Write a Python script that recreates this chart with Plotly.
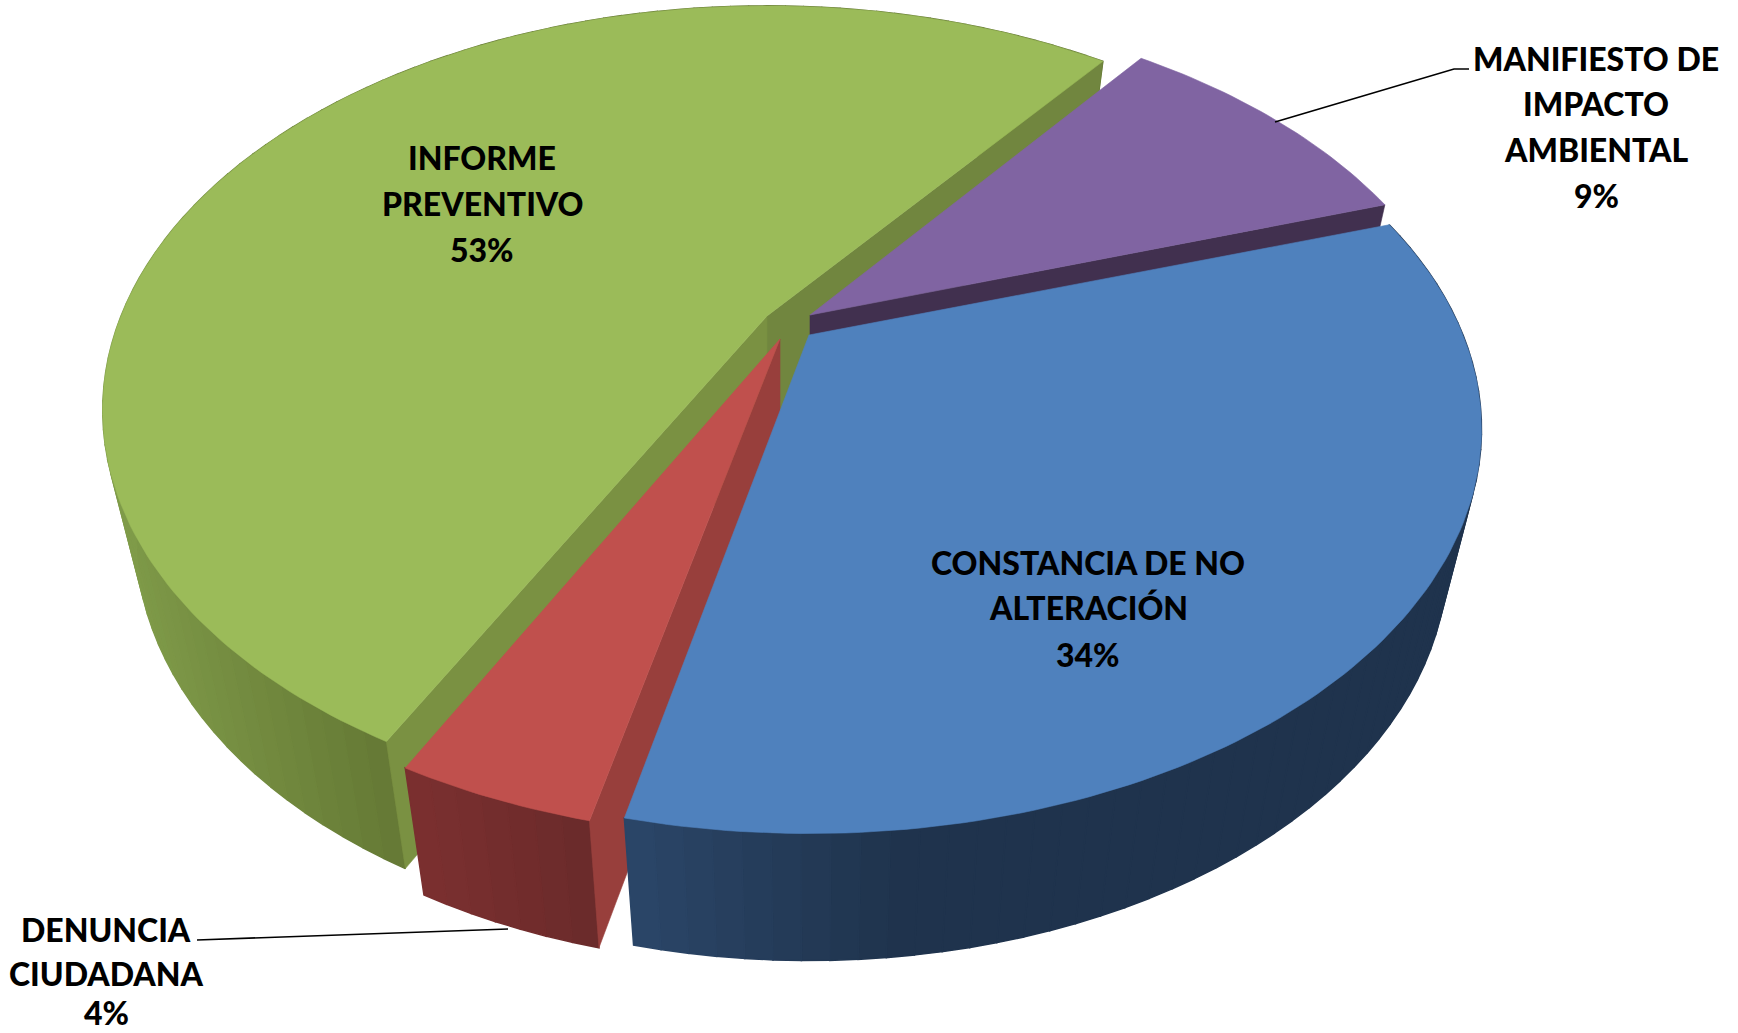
import math
import plotly.graph_objects as go

# ---- data ----
categories = ["CONSTANCIA DE NO\nALTERACIÓN", "DENUNCIA\nCIUDADANA", "INFORME\nPREVENTIVO", "MANIFIESTO DE\nIMPACTO\nAMBIENTAL"]
values = [33.5, 4.25, 52.8, 9.45]

# ---- style / geometry ----
W, H = 1738, 1033
START_ANGLE = 72.0      # clockwise from 12 o'clock, first slice
RX = [654.0, 650.0, 646.0, 648.0]
RY, PERSP = 382.4, 0.233
DROP, SHRINK_X = 127.0, 0.95
APEX = [(809, 335), (780, 339), (767, 316), (810, 315)]
NUDGE = [(0, 0), (0.5, -0.7), (0, 0), (-0.7, 0)]    # drawing offsets of slice edges, degrees
TOP = ["#4F81BD", "#C0504D", "#9BBB59", "#8064A2"]
WALL_START = [None, "#983F3C", "#7A9142", None]     # radial wall at slice start angle
WALL_END = [None, None, "#71863F", "#41304F"]       # radial wall at slice end angle
OUTER = [("#2B4668", "#1F334D"), ("#7C3030", "#692A2A"), ("#7F9B49", "#637633"), None]
GRAD_RANGE = [(625, 900), (400, 600), (110, 410), (0, 1)]
LABEL_POS = [(1088, (562, 607, 654)), (106, (929, 973, 1012)), (482, (157, 203, 249)),
             (1596, (58, 103, 149, 195))]
FONT = "Lato"
FSIZE = 32


def top_pt(i, deg):
    ax, ay = APEX[i]
    t = math.radians(deg)
    x, y = math.sin(t), -math.cos(t)
    w = 1 - PERSP * y
    return ax + RX[i] * x / w, ay + RY * y / w


def bot_pt(i, p):
    ax, ay = APEX[i]
    return ax + SHRINK_X * (p[0] - ax), p[1] + DROP


def mix(c1, c2, f):
    f = max(0.0, min(1.0, f))
    a = [int(c1[k:k + 2], 16) for k in (1, 3, 5)]
    b = [int(c2[k:k + 2], 16) for k in (1, 3, 5)]
    return "#%02x%02x%02x" % tuple(round(u + (v - u) * f) for u, v in zip(a, b))


fig = go.Figure()


def poly(pts, color, lw=0.6):
    fig.add_trace(go.Scatter(
        x=[p[0] for p in pts] + [pts[0][0]], y=[p[1] for p in pts] + [pts[0][1]],
        mode="lines", fill="toself", fillcolor=color,
        line=dict(color=color, width=lw), hoverinfo="skip", showlegend=False))


def radial_wall(i, deg, color):
    a = APEX[i]
    p = top_pt(i, deg)
    poly([a, p, bot_pt(i, p), bot_pt(i, a)], color)


total = sum(values)
spans = []
acc = START_ANGLE
for idx, v in enumerate(values):
    spans.append((acc + NUDGE[idx][0], acc + 360.0 * v / total + NUDGE[idx][1]))
    acc += 360.0 * v / total


def draw_slice(i):
    a0, a1 = spans[i]
    if OUTER[i]:
        n = max(4, int((a1 - a0) / 2))
        lo, hi = GRAD_RANGE[i]
        for k in range(n):
            d0 = a0 + (a1 - a0) * k / n
            d1 = a0 + (a1 - a0) * (k + 1) / n
            p0, p1 = top_pt(i, d0), top_pt(i, d1)
            f = ((p0[0] + p1[0]) / 2 - lo) / (hi - lo)
            poly([p0, p1, bot_pt(i, p1), bot_pt(i, p0)], mix(OUTER[i][0], OUTER[i][1], f), lw=1.5)
    if WALL_END[i]:
        radial_wall(i, a1, WALL_END[i])
    if WALL_START[i]:
        radial_wall(i, a0, WALL_START[i])
    n = max(8, int(a1 - a0))
    arc = [top_pt(i, a0 + (a1 - a0) * k / n) for k in range(n + 1)]
    poly([APEX[i]] + arc, TOP[i])


# painter's order: back slices first
for i in (2, 3, 1, 0):
    draw_slice(i)

annotations = []
for i, (cat, val) in enumerate(zip(categories, values)):
    lines = cat.split("\n") + [f"{round(val)}%"]
    cx, ys = LABEL_POS[i]
    for line, y in zip(lines, ys):
        annotations.append(dict(x=cx, y=y, text=line, showarrow=False,
                                xanchor="center", yanchor="middle",
                                font=dict(family=FONT, size=FSIZE, color="#000000", weight=900)))

shapes = [
    dict(type="path", path="M 1275 122 L 1454 69 L 1469 69", line=dict(color="#000000", width=1.6)),
    dict(type="path", path="M 197 940 L 508 929", line=dict(color="#000000", width=1.6)),
]

fig.update_layout(
    width=W, height=H, margin=dict(l=0, r=0, t=0, b=0),
    paper_bgcolor="#ffffff", plot_bgcolor="#ffffff", showlegend=False,
    xaxis=dict(range=[0, W], visible=False, fixedrange=True),
    yaxis=dict(range=[H, 0], visible=False, fixedrange=True),
    annotations=annotations, shapes=shapes,
)
fig.write_html("out.html", config={"displayModeBar": False},
               post_script="document.body.style.margin='0';document.body.style.overflow='hidden';")
